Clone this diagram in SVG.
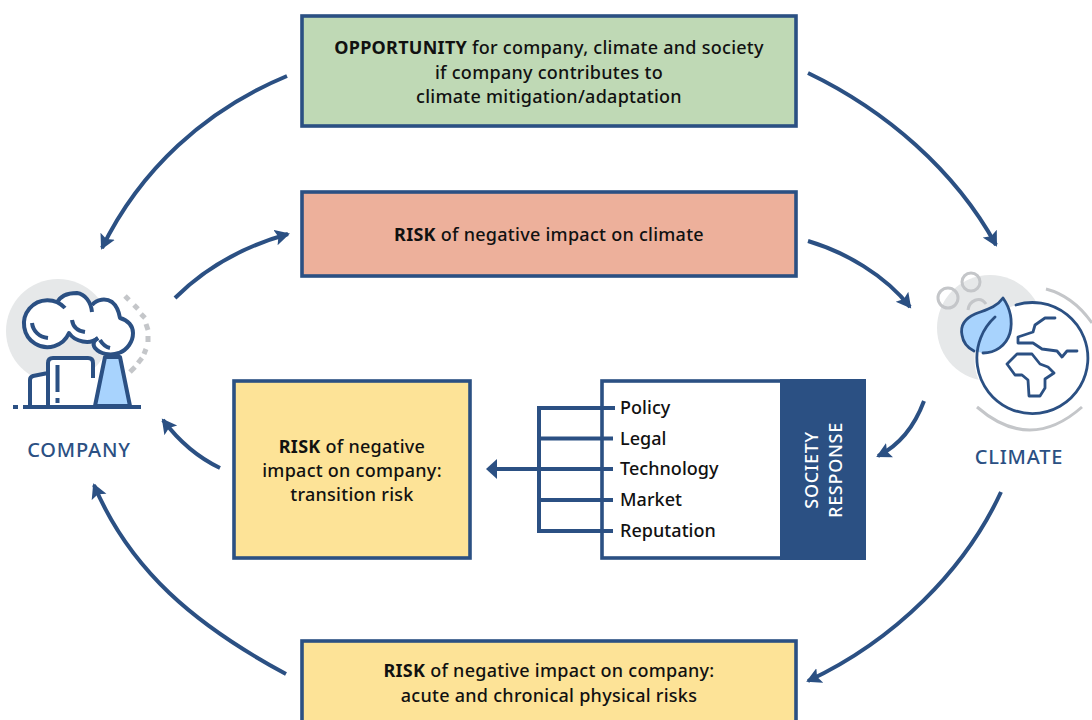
<svg xmlns="http://www.w3.org/2000/svg" width="1092" height="720" viewBox="0 0 1092 720">
<style>
text{font-family:"Noto Sans","Liberation Sans",sans-serif;font-size:18px;font-weight:500;fill:#111;text-anchor:middle;letter-spacing:.27px}
.b{font-weight:700}
.box{stroke:#2b5083;stroke-width:3.600}
.c{fill:none;stroke:#2b5083;stroke-width:4;marker-end:url(#a)}
.l{fill:none;stroke:#2b5083;stroke-width:4}
.i{fill:none;stroke:#2b5083;stroke-width:4;stroke-linejoin:round}
.t{fill:none;stroke:#2b5083;stroke-width:2.800;stroke-linejoin:round;stroke-linecap:round}
.g{fill:none;stroke:#c4c6c9;stroke-width:3}
.lab{fill:#2b5083;font-size:20px;letter-spacing:.8px}
text.list{text-anchor:start;letter-spacing:.05px}
text.w{fill:#fff;letter-spacing:.7px}
</style>
<defs><marker id="a" markerUnits="userSpaceOnUse" markerWidth="20" markerHeight="20" refX="13" refY="8" orient="auto"><path d="M0 0L15 8L0 16L3 8Z" fill="#2b5083"/></marker></defs>
<rect width="1092" height="720" fill="#fff"/>
<g id="connectors">
<path class="c" d="M287 76C205 110 140 170 102 248"/>
<path class="c" d="M808 73C885 110 955 170 996 245"/>
<path class="c" d="M175 298C205 268 245 246 288 234"/>
<path class="c" d="M808 241C845 252 885 275 910 307"/>
<path class="c" d="M924 401C915 425 900 445 878 456"/>
<path class="c" d="M220 468C195 456 178 440 163 420"/>
<path class="c" d="M1001 492C965 570 895 640 808 681"/>
<path class="c" d="M286 674C195 625 130 570 94 485"/>
<path class="l" d="M615 408H539V531H615M539 438.500H613M539 500H613"/>
<path class="l" d="M613 469H496"/>
<path d="M486 469L497 459V479Z" fill="#2b5083"/>
</g>
<g id="opportunity"><rect class="box" x="302" y="16" width="494" height="110" fill="#bfd9b5"/>
<text x="549" y="54"><tspan class="b">OPPORTUNITY</tspan> for company, climate and society</text><text x="549" y="79">if company contributes to</text><text x="549" y="103">climate mitigation/adaptation</text></g>
<g id="risk-climate"><rect class="box" x="302" y="192" width="494" height="84" fill="#edb09b"/>
<text x="549" y="241"><tspan class="b">RISK</tspan> of negative impact on climate</text></g>
<g id="risk-transition"><rect class="box" x="234" y="381" width="236" height="177" fill="#fde397"/>
<text x="352" y="453"><tspan class="b">RISK</tspan> of negative</text><text x="352" y="477">impact on company:</text><text x="352" y="501">transition risk</text></g>
<g id="risk-physical"><rect class="box" x="302" y="641" width="494" height="90" fill="#fde397"/>
<text x="549" y="677"><tspan class="b">RISK</tspan> of negative impact on company:</text><text x="549" y="702">acute and chronical physical risks</text></g>
<g id="society"><rect class="box" x="602" y="381" width="262" height="177" fill="#fff"/><rect x="780" y="379" width="86" height="181" fill="#2b5083"/>
<path class="l" d="M602 408H615M602 438.500H613M602 469H613M602 500H613M602 531H613"/>
<text class="list" x="620" y="414">Policy</text><text class="list" x="620" y="445">Legal</text><text class="list" x="620" y="475">Technology</text><text class="list" x="620" y="506">Market</text><text class="list" x="620" y="537">Reputation</text>
<text class="w" transform="translate(818 470) rotate(-90)">SOCIETY</text><text class="w" transform="translate(842 470) rotate(-90)">RESPONSE</text></g>
<g id="company"><circle cx="58" cy="331" r="52" fill="#e6e8e9"/>
<path d="M48 406V363Q48 358 53 358H88Q93 358 93 363V406ZM30 406V380Q30 377 33 376L48 373V406Z" fill="#fff"/>
<path d="M65 308A23.500 23.500 0 1 0 69 333C75 342 92 345 98 338C92 345 100 353 113 355C125 354 135 342 132 325L120 318C118 305 103 292 92 305C88 292 65 288 57 303C52 304 52 310 65 308Z" fill="#fff"/>
<path class="i" d="M65 308A23.500 23.500 0 1 0 69 333C75 342 90 345 98 338"/>
<path class="i" d="M57 303C60 296 68 293 77 293C85 294 91 302 92 312"/>
<path class="i" d="M92 305C97 299 106 298 112 302C117 306 119 312 120 318C128 320 133 326 133 333C133 342 127 350 119 353C110 356 100 354 95 348C92 344 94 340 98 338"/>
<path class="i" d="M32 323C33 331 39 337 48 338M72 320C73 327 78 331 85 332M100 340C103 345 106 347 110 348"/>
<path class="i" d="M48 405V363Q48 358 53 358H88Q93 358 93 363V378M30 405V380Q30 377 33 376L48 373M57.500 365V392M57.500 398V403"/>
<path d="M105 357L95 406H130L120 357Z" fill="#a8d3fd" stroke="#2b5083" stroke-width="4" stroke-linejoin="round"/>
<path class="i" d="M13 407H18M23 407H141"/>
<path d="M125 296L129 300M134 305L138 309M141 314L145 318M146 324L148 330M148 336V342M146 349L144 354M142 358L138 363M135 367L130 372" fill="none" stroke="#c4c6c9" stroke-width="5"/></g>
<g id="climate"><circle cx="990" cy="328" r="53" fill="#e6e8e9"/>
<circle class="g" cx="948" cy="298" r="10"/><circle class="g" cx="971" cy="282" r="9"/><path class="g" d="M968 310C969 301 980 295 986 304"/>
<circle cx="1030" cy="359" r="55.500" fill="#fff"/>
<path d="M1003 298C1010 308 1013 320 1010 333C1006 346 995 353 983 353C973 352 964 344 962 335C960 325 966 318 975 314C985 310 996 308 1003 298Z" fill="#a8d3fd"/>
<path class="t" d="M983 353C995 353 1006 346 1010 333C1013 320 1010 308 1003 298C996 308 985 310 975 314C966 318 960 325 962 335C963 342 968 348 974 351"/>
<path class="t" d="M995 317A55.500 55.500 0 1 0 1016 305"/>
<path class="t" d="M1055 318H1045L1035 325L1033 332L1018 337V343H1033L1042 349L1057 351L1062 357L1067 351H1077"/>
<path class="t" d="M1007 364L1017 354H1032L1040 364L1048 367L1054 373L1045 379V388L1040 396H1029L1028 380L1022 375H1015Z"/>
<path class="g" d="M1046 289Q1073 296 1092 323M977 407Q1030 453 1082 407"/></g>
<text class="lab" x="79" y="457">COMPANY</text>
<text class="lab" x="1019" y="464">CLIMATE</text>
</svg>
